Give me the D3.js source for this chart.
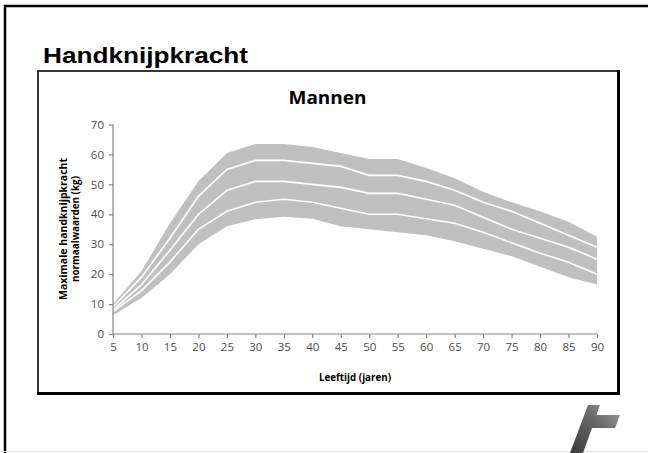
<!DOCTYPE html>
<html><head><meta charset="utf-8">
<script src="https://cdn.jsdelivr.net/npm/d3@7"></script>
<style>html,body{margin:0;padding:0;background:#fff;}svg{display:block;}</style>
</head><body>
<svg id="c" width="648" height="453"></svg>
<script>
const ages = [5,10,15,20,25,30,35,40,45,50,55,60,65,70,75,80,85,90];
const bandTop   = [10,21,37,51,60.5,63.5,63.5,62.5,60.5,58.5,58.5,55.5,52,47.5,44,41,37.5,32.5];
const lineUpper = [9,19,32,46,55,58,58,57,56,53,53,51,48,44,41,37,33,29];
const lineMid   = [8,16.5,28,40,48,51,51,50,49,47,47,45,43,39,35,32,29,25];
const lineLower = [7.5,14.5,24,35,41,44,45,44,42,40,40,38.5,37,34,30.5,27,24,20];
const bandBottom= [6.3,12,20,30,36,38.3,39.2,38.5,36,35,34,33,31,28.5,26,22.5,19,16.5];
const yTicks = [0,10,20,30,40,50,60,70];
const xTicks = [5,10,15,20,25,30,35,40,45,50,55,60,65,70,75,80,85,90];
const slideTitle = "Handknijpkracht";
const chartTitle = "Mannen";
const xTitle = "Leeftijd (jaren)";
const yTitle = ["Maximale handknijpkracht","normaalwaarden (kg)"];

const svg = d3.select("#c");
const font = "'Open Sans', 'Liberation Sans', sans-serif";

// slide frame
svg.append("line").attr("x1",4).attr("x2",648).attr("y1",6).attr("y2",6).attr("stroke","#000").attr("stroke-width",2.5);
svg.append("line").attr("x1",5).attr("x2",5).attr("y1",5).attr("y2",453).attr("stroke","#000").attr("stroke-width",2.5);
svg.append("line").attr("x1",0).attr("x2",648).attr("y1",451.5).attr("y2",451.5).attr("stroke","#e2e2e2").attr("stroke-width",1);

// slide title
svg.append("text").attr("x",43).attr("y",63).attr("font-family","'Liberation Sans', Arial, sans-serif")
  .attr("font-weight","bold").attr("font-size",22).attr("fill","#000")
  .attr("textLength",205).attr("lengthAdjust","spacingAndGlyphs").text(slideTitle);

// chart box
svg.append("rect").attr("x",38).attr("y",71).attr("width",580.5).attr("height",322.5)
  .attr("fill","#fff").attr("stroke","#222").attr("stroke-width",1.8);
svg.append("line").attr("x1",618.5).attr("x2",618.5).attr("y1",70).attr("y2",395).attr("stroke","#000").attr("stroke-width",3);
svg.append("line").attr("x1",37).attr("x2",620).attr("y1",393.5).attr("y2",393.5).attr("stroke","#000").attr("stroke-width",3);

const x = d3.scaleLinear().domain([5,90]).range([113,597]);
const y = d3.scaleLinear().domain([0,70]).range([334,124.5]);

// band
const data = ages.map((a,i)=>({a, t:bandTop[i], u:lineUpper[i], m:lineMid[i], l:lineLower[i], b:bandBottom[i]}));
svg.append("path").datum(data)
  .attr("d", d3.area().x(d=>x(d.a)).y0(d=>y(d.b)).y1(d=>y(d.t)))
  .attr("fill","#c0c0c0");
["u","m","l"].forEach(k=>{
  svg.append("path").datum(data)
    .attr("d", d3.line().x(d=>x(d.a)).y(d=>y(d[k])))
    .attr("fill","none").attr("stroke","#fff").attr("stroke-width",1.6);
});

// axes
const axCol = "#868686";
const gy = svg.append("g").attr("transform","translate(113,0)")
  .call(d3.axisLeft(y).tickValues(yTicks).tickSize(4).tickPadding(5).tickFormat(d3.format("d")));
const gx = svg.append("g").attr("transform","translate(0,334)")
  .call(d3.axisBottom(x).tickValues(xTicks).tickSize(4).tickPadding(5).tickFormat(d3.format("d")));
[gx,gy].forEach(g=>{
  g.select(".domain").attr("stroke",axCol).attr("stroke-width",1.2);
  g.selectAll(".tick line").attr("stroke",axCol).attr("stroke-width",1.2);
  g.selectAll(".tick text").attr("fill","#4d4d4d").attr("font-family",font).attr("font-size",11.5);
});
gy.select(".domain").attr("d","M0,334V124.5");
gx.select(".domain").attr("d","M113,0H597");

// titles
svg.append("text").attr("x",327.5).attr("y",103.5).attr("text-anchor","middle")
  .attr("font-family",font).attr("font-weight","bold").attr("font-size",17).attr("fill","#000")
  .attr("textLength",78).attr("lengthAdjust","spacingAndGlyphs").text(chartTitle);
svg.append("text").attr("x",355).attr("y",381).attr("text-anchor","middle")
  .attr("font-family",font).attr("font-weight","bold").attr("font-size",10.5).attr("fill","#000")
  .attr("textLength",72).attr("lengthAdjust","spacingAndGlyphs").text(xTitle);
const yt = svg.append("text").attr("transform","translate(0,229) rotate(-90)")
  .attr("text-anchor","middle").attr("font-family",font).attr("font-weight","bold").attr("font-size",10.5).attr("fill","#000");
yt.append("tspan").attr("x",0).attr("y",67).attr("textLength",142).attr("lengthAdjust","spacingAndGlyphs").text(yTitle[0]);
yt.append("tspan").attr("x",0).attr("y",79).attr("textLength",106).attr("lengthAdjust","spacingAndGlyphs").text(yTitle[1]);

// logo
const defs = svg.append("defs");
const grad = defs.append("linearGradient").attr("id","lg").attr("x1","0").attr("y1","1").attr("x2","1").attr("y2","0");
grad.append("stop").attr("offset","0").attr("stop-color","#3a3a3a");
grad.append("stop").attr("offset","0.6").attr("stop-color","#6a6a6a");
grad.append("stop").attr("offset","1").attr("stop-color","#a0a0a0");
svg.append("path").attr("d","M588,405 L600,405 L596.5,415 L620,415 L615,428 L592,428 L583,453 L570,453 Z")
  .attr("fill","url(#lg)");
</script>
</body></html>
